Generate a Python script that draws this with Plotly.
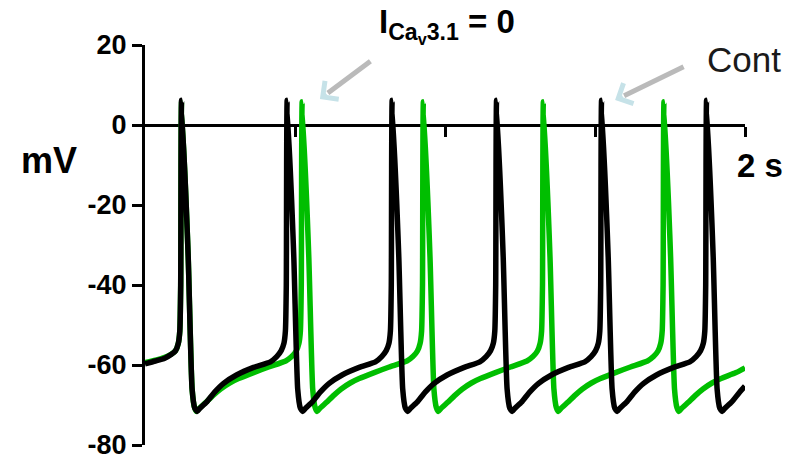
import plotly.graph_objects as go

# ---------------- data ----------------
# time in seconds, membrane potential in mV
cont_t = [
    0.000, 0.035, 0.066, 0.087, 0.102, 0.111, 0.116, 0.119, 0.122,
    0.144, 0.157, 0.166, 0.174, 0.182, 0.205, 0.232, 0.262, 0.305, 0.362,
    0.418, 0.439, 0.454, 0.463, 0.468, 0.471, 0.474,
    0.496, 0.509, 0.518, 0.526, 0.534, 0.557, 0.584, 0.614, 0.657, 0.714,
    0.768, 0.789, 0.804, 0.813, 0.818, 0.821, 0.824,
    0.846, 0.859, 0.868, 0.876, 0.884, 0.907, 0.934, 0.964, 1.007, 1.064,
    1.116, 1.137, 1.152, 1.161, 1.166, 1.169, 1.172,
    1.194, 1.207, 1.216, 1.224, 1.232, 1.255, 1.282, 1.312, 1.355, 1.412,
    1.466, 1.487, 1.502, 1.511, 1.516, 1.519, 1.522,
    1.544, 1.557, 1.566, 1.574, 1.582, 1.605, 1.632, 1.662, 1.705, 1.762,
    1.816, 1.837, 1.852, 1.861, 1.866, 1.869, 1.872,
    1.894, 1.907, 1.916, 1.924, 1.932, 1.955, 1.982, 2.000,
]
cont_mv = [
    -59.7, -59.0, -58.3, -57.4, -56.4, -54.6, -51.5, -40.0, 6.2,
    -33.0, -66.0, -70.8, -71.6, -70.9, -69.3, -66.8, -64.6, -62.5, -60.6,
    -59.2, -57.9, -56.4, -54.6, -51.5, -40.0, 6.2,
    -33.0, -66.0, -70.8, -71.6, -70.9, -69.3, -66.8, -64.6, -62.5, -60.6,
    -59.2, -57.9, -56.4, -54.6, -51.5, -40.0, 6.2,
    -33.0, -66.0, -70.8, -71.6, -70.9, -69.3, -66.8, -64.6, -62.5, -60.6,
    -59.2, -57.9, -56.4, -54.6, -51.5, -40.0, 6.2,
    -33.0, -66.0, -70.8, -71.6, -70.9, -69.3, -66.8, -64.6, -62.5, -60.6,
    -59.2, -57.9, -56.4, -54.6, -51.5, -40.0, 6.2,
    -33.0, -66.0, -70.8, -71.6, -70.9, -69.3, -66.8, -64.6, -62.5, -60.6,
    -59.2, -57.9, -56.4, -54.6, -51.5, -40.0, 6.2,
    -33.0, -66.0, -70.8, -71.6, -70.9, -69.3, -66.8, -65.3,
]

cav_t = [
    0.000, 0.035, 0.066, 0.087, 0.102, 0.111, 0.116, 0.119, 0.122,
    0.144, 0.157, 0.165, 0.172, 0.180, 0.202, 0.227, 0.252, 0.282, 0.312, 0.362, 0.412,
    0.469, 0.489, 0.504, 0.513, 0.518, 0.521, 0.524,
    0.546, 0.559, 0.567, 0.574, 0.582, 0.604, 0.629, 0.654, 0.684, 0.714, 0.764, 0.814,
    0.873, 0.893, 0.908, 0.917, 0.922, 0.925, 0.928,
    0.950, 0.963, 0.971, 0.978, 0.986, 1.008, 1.033, 1.058, 1.088, 1.118, 1.168, 1.218,
    1.273, 1.293, 1.308, 1.317, 1.322, 1.325, 1.328,
    1.350, 1.363, 1.371, 1.378, 1.386, 1.408, 1.433, 1.458, 1.488, 1.518, 1.568, 1.618,
    1.675, 1.695, 1.710, 1.719, 1.724, 1.727, 1.730,
    1.752, 1.765, 1.773, 1.780, 1.788, 1.810, 1.835, 1.860, 1.890, 1.920, 1.970, 2.000,
]
cav_mv = [
    -59.4, -58.8, -58.1, -57.3, -56.4, -54.6, -51.5, -40.0, 5.8,
    -33.0, -66.0, -70.6, -71.6, -70.9, -69.4, -67.6, -66.0, -64.5, -63.4, -61.9, -60.5,
    -59.0, -57.9, -56.5, -54.6, -51.5, -40.0, 5.8,
    -33.0, -66.0, -70.6, -71.6, -70.9, -69.4, -67.6, -66.0, -64.5, -63.4, -61.9, -60.5,
    -59.0, -57.9, -56.5, -54.6, -51.5, -40.0, 5.8,
    -33.0, -66.0, -70.6, -71.6, -70.9, -69.4, -67.6, -66.0, -64.5, -63.4, -61.9, -60.5,
    -59.0, -57.9, -56.5, -54.6, -51.5, -40.0, 5.8,
    -33.0, -66.0, -70.6, -71.6, -70.9, -69.4, -67.6, -66.0, -64.5, -63.4, -61.9, -60.5,
    -59.0, -57.9, -56.5, -54.6, -51.5, -40.0, 5.8,
    -33.0, -66.0, -70.6, -71.6, -70.9, -69.4, -67.6, -66.0, -64.5, -63.4, -61.9, -60.7,
]

y_tick_vals = [20, 0, -20, -40, -60, -80]
y_tick_text = ["20", "0", "-20", "-40", "-60", "-80"]
x_tick_vals = [0.5, 1.0, 1.5, 2.0]

FONT = "Liberation Sans, Arial, sans-serif"
GREEN = "#00BE00"

fig = go.Figure()
fig.add_trace(go.Scatter(
    x=cav_t, y=cav_mv, mode="lines", name="ICav3.1 = 0",
    line=dict(color=GREEN, width=5.5, shape="spline", smoothing=0.5),
))
fig.add_trace(go.Scatter(
    x=cont_t, y=cont_mv, mode="lines", name="Cont",
    line=dict(color="black", width=5.5, shape="spline", smoothing=0.5),
))

fig.update_layout(
    width=793, height=464,
    margin=dict(l=145, r=48, t=45, b=19),
    paper_bgcolor="white", plot_bgcolor="white",
    showlegend=False,
    font=dict(family=FONT, color="black"),
    xaxis=dict(
        range=[0, 2], anchor="free", position=0.8,
        showline=True, linecolor="black", linewidth=3,
        ticks="outside", ticklen=10, tickwidth=3, tickcolor="black",
        tickvals=x_tick_vals, showticklabels=False,
        showgrid=False, zeroline=False, layer="below traces",
        automargin=False,
    ),
    yaxis=dict(
        range=[-80, 20],
        showline=True, linecolor="black", linewidth=3,
        ticks="outside", ticklen=10, tickwidth=3, tickcolor="black",
        tickvals=y_tick_vals, ticktext=y_tick_text,
        tickfont=dict(family=FONT, size=27, color="black", weight="bold"),
        ticklabelstandoff=0,
        showgrid=False, zeroline=False, layer="below traces",
        automargin=False,
    ),
)

annotations = [
    dict(text="mV", x=-0.16, y=0.7125, xref="paper", yref="paper",
         showarrow=False, xanchor="center", yanchor="middle",
         font=dict(family=FONT, size=36, color="black", weight="bold")),
    dict(text="2 s", x=1.025, y=0.70, xref="paper", yref="paper",
         showarrow=False, xanchor="center", yanchor="middle",
         font=dict(family=FONT, size=33, color="black", weight="bold")),
    dict(text="I<sub>Ca<sub>v</sub>3.1</sub> = 0", x=0.386, y=1.11,
         xref="paper", yref="paper", showarrow=False,
         xanchor="left", yanchor="top",
         font=dict(family=FONT, size=33, color="black", weight="bold")),
    dict(text="Cont", x=0.998, y=0.9625, xref="paper", yref="paper",
         showarrow=False, xanchor="center", yanchor="middle",
         font=dict(family=FONT, size=35, color="#1a1a1a")),
    # arrow shafts (gray)
    dict(text="", x=0.583, y=6.5, xref="x", yref="y", showarrow=True,
         ax=52, ay=-39, arrowhead=0, arrowwidth=5, standoff=10,
         arrowcolor="rgba(175,175,175,0.85)"),
    dict(text="", x=1.567, y=6.25, xref="x", yref="y", showarrow=True,
         ax=70, ay=-34, arrowhead=0, arrowwidth=5, standoff=10,
         arrowcolor="rgba(175,175,175,0.85)"),
    # arrow heads (light blue chevrons)
    dict(text="", x=0.583, y=6.5, xref="x", yref="y", showarrow=True,
         ax=8, ay=-6, arrowhead=4, arrowwidth=4, arrowsize=1.1,
         arrowcolor="#c6e2e8"),
    dict(text="", x=1.567, y=6.25, xref="x", yref="y", showarrow=True,
         ax=9, ay=-4.4, arrowhead=4, arrowwidth=4, arrowsize=1.1,
         arrowcolor="#c6e2e8"),
]
fig.update_layout(annotations=annotations)

fig.write_html("out.html", config={"displayModeBar": False})

# remove the browser's default 8px body margin so the figure sits at (0, 0)
with open("out.html", "r", encoding="utf-8") as fh:
    html = fh.read()
html = html.replace("<head>", "<head><style>html,body{margin:0;padding:0;}</style>", 1)
with open("out.html", "w", encoding="utf-8") as fh:
    fh.write(html)
